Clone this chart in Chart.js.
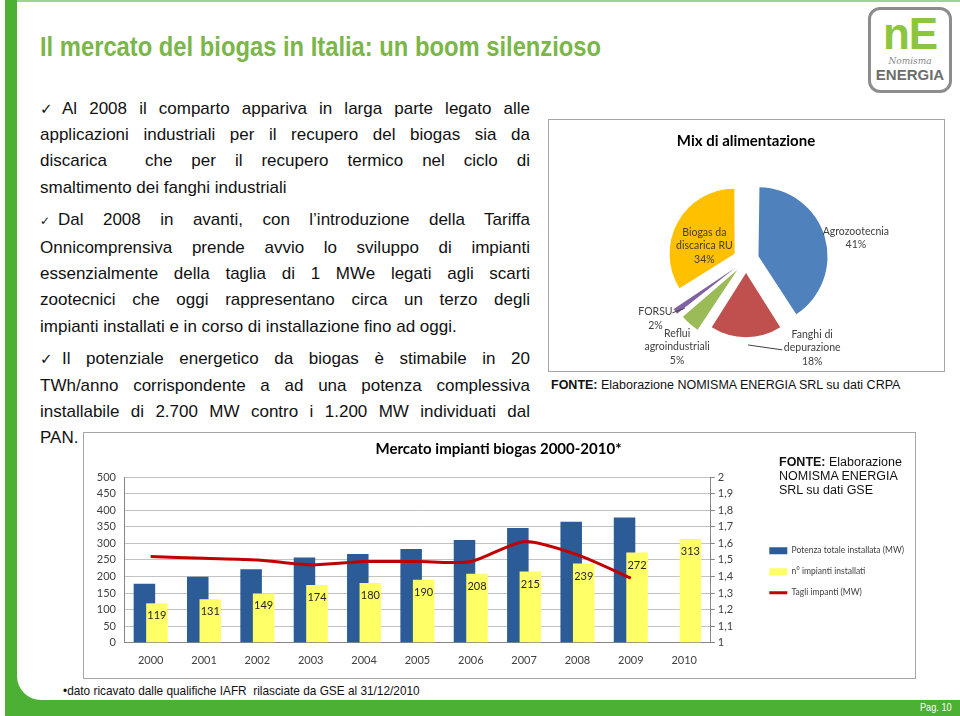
<!DOCTYPE html>
<html>
<head>
<meta charset="utf-8">
<script src="https://cdn.jsdelivr.net/npm/chart.js@4.4.1/dist/chart.umd.min.js"></script>
<style>
    html, body { margin: 0; padding: 0; }
    body { width: 960px; height: 716px; position: relative; overflow: hidden; background: #fff;
           font-family: "Liberation Sans", Arial, sans-serif; color: #111; }
    #frame { position: absolute; left: 5px; top: 0; width: 955px; height: 716px; background: #4cb035; }
    #page { position: absolute; left: 17px; top: 2px; right: 0; bottom: 16px; background: #fff; border-bottom-left-radius: 24px; }
    #topline { position: absolute; left: 17px; top: 0; right: 0; height: 2px; background: #9fd48a; }
    #title { position: absolute; left: 40px; top: 32px; font-weight: bold; font-size: 27px; color: #7ab648;
             white-space: nowrap; transform: scaleX(0.88); transform-origin: left center; }
    #text { position: absolute; left: 40px; top: 95.5px; width: 490px; font-size: 17px; line-height: 26.4px; }
    #text .p { margin-top: 6px; }
    #text .p:first-child { margin-top: 0; }
    #text .l { text-align: justify; text-align-last: justify; white-space: nowrap; }
    #text .l.last { text-align-last: left; }
    .chk { display: inline-block; width: 22px; font-family: "DejaVu Sans", sans-serif; font-size: 15px; }
    .chk.s { width: 18px; font-size: 12px; }
    .box { position: absolute; border: 1px solid #a6a6a6; background: #fff; }
    canvas { position: absolute; }
    .fonte { position: absolute; font-size: 12.5px; line-height: 14px; color: #111; }
    #foot { position: absolute; left: 63px; top: 683px; font-size: 13px; white-space: nowrap;
            transform: scaleX(0.91); transform-origin: left center; }
    #pag { position: absolute; right: 8px; top: 701px; color: #fff; font-size: 11.5px; white-space: nowrap;
           transform: scaleX(0.8); transform-origin: right center; }
    #logo { position: absolute; left: 868px; top: 7px; width: 78px; height: 80px; border: 3px solid #8d8d8d; border-radius: 12px; text-align: center; }
    #logo .ne { font-weight: bold; font-size: 44px; line-height: 44px; color: #8cc63f; margin-top: 2px; letter-spacing: -1px; }
    #logo .nom { font-family: "DejaVu Serif", serif; font-style: italic; font-size: 9px; color: #888; line-height: 10px; }
    #logo .en { font-weight: bold; font-size: 15px; line-height: 18px; color: #6d6d6d; }
</style>
</head>
<body>
<div id="frame"></div>
<div id="page"></div>
<div id="topline"></div>

<div id="title">Il mercato del biogas in Italia: un boom silenzioso</div>

<div id="logo">
    <div class="ne">nE</div>
    <div class="nom">Nomisma</div>
    <div class="en">ENERGIA</div>
</div>

<div id="text">
    <div class="p">
        <div class="l"><span class="chk">✓</span>Al 2008 il comparto appariva in larga parte legato alle</div>
        <div class="l">applicazioni industriali per il recupero del biogas sia da</div>
        <div class="l">discarica &nbsp;che per il recupero termico nel ciclo di</div>
        <div class="l last">smaltimento dei fanghi industriali</div>
    </div>
    <div class="p">
        <div class="l"><span class="chk s">✓</span>Dal 2008 in avanti, con l’introduzione della Tariffa</div>
        <div class="l">Onnicomprensiva prende avvio lo sviluppo di impianti</div>
        <div class="l">essenzialmente della taglia di 1 MWe legati agli scarti</div>
        <div class="l">zootecnici che oggi rappresentano circa un terzo degli</div>
        <div class="l last">impianti installati e in corso di installazione fino ad oggi.</div>
    </div>
    <div class="p">
        <div class="l"><span class="chk">✓</span>Il potenziale energetico da biogas è stimabile in 20</div>
        <div class="l">TWh/anno corrispondente a ad una potenza complessiva</div>
        <div class="l">installabile di 2.700 MW contro i 1.200 MW individuati dal</div>
        <div class="l last">PAN.</div>
    </div>
</div>

<div class="box" style="left:548px; top:119px; width:395px; height:251px;"></div>
<canvas id="mix" width="396" height="252" style="left:548px; top:119px;"></canvas>
<div class="fonte" style="left:551px; top:378px;"><b>FONTE:</b> Elaborazione NOMISMA ENERGIA SRL su dati CRPA</div>

<div class="box" style="left:83px; top:432px; width:831px; height:245px;"></div>
<canvas id="market" width="832" height="246" style="left:83px; top:432px;"></canvas>
<div class="fonte" style="left:779px; top:455px;"><b>FONTE:</b> Elaborazione<br>NOMISMA ENERGIA<br>SRL su dati GSE</div>

<div id="foot">•dato ricavato dalle qualifiche IAFR &nbsp;rilasciate da GSE al 31/12/2010</div>
<div id="pag">Pag. 10</div>

<script>
// --- pie: mix di alimentazione ---
const mixNames = [['Agrozootecnia'], ['Fanghi di', 'depurazione'], ['Reflui', 'agroindustriali'], ['FORSU'], ['Biogas da', 'discarica RU']];
const mixShares = [41, 18, 5, 2, 34];
const mixColors = ['#4f81bd', '#c0504d', '#9bbb59', '#8064a2', '#ffc000'];

// --- bars + line: mercato impianti ---
const years = ['2000', '2001', '2002', '2003', '2004', '2005', '2006', '2007', '2008', '2009', '2010'];
const potenzaMW = [178, 199, 222, 257, 268, 283, 310, 346, 365, 378, null];
const nImpianti = [119, 131, 149, 174, 180, 190, 208, 215, 239, 272, 313];
const tagliMW = [1.52, 1.51, 1.50, 1.47, 1.49, 1.49, 1.49, 1.61, 1.53, 1.39, null];
const rightTickLabels = ['1', '1,1', '1,2', '1,3', '1,4', '1,5', '1,6', '1,7', '1,8', '1,9', '2'];

Chart.defaults.font.family = 'Lato, "Liberation Sans", sans-serif';
Chart.defaults.color = '#404040';

// label placement around the pie (shift from slice bisector in degrees, distance from centre)
const pieLabelPlace = [
    {shift: 5, dist: 112},
    {shift: -37, dist: 110, leader: {a: -1.4, r: 85, tx: -30, ty: 2}},
    {shift: -3, dist: 111},
    {shift: 3, dist: 108, leader: {a: -2.2, r: 78, tx: 17, ty: -6}},
    {shift: -10, dist: 44}
];

const pieLabels = {
    id: 'pieLabels',
    afterDatasetsDraw(chart) {
        const ctx = chart.ctx;
        const arcs = chart.getDatasetMeta(0).data;
        ctx.save();
        ctx.font = '10.5px Lato, "Liberation Sans", sans-serif';
        ctx.fillStyle = '#404040';
        ctx.strokeStyle = '#404040';
        ctx.lineWidth = 1;
        ctx.textAlign = 'center';
        ctx.textBaseline = 'middle';
        arcs.forEach((arc, i) => {
            const p = pieLabelPlace[i];
            const mid = (arc.startAngle + arc.endAngle) / 2;
            const a = mid + p.shift * Math.PI / 180;
            const x = arc.x + Math.cos(a) * p.dist;
            const y = arc.y + Math.sin(a) * p.dist;
            const lines = mixNames[i].concat(mixShares[i] + '%');
            lines.forEach((t, k) => {
                ctx.fillText(t, x, y + (k - (lines.length - 1) / 2) * 13.5);
            });
            if (p.leader) {
                const la = mid + p.leader.a * Math.PI / 180;
                ctx.beginPath();
                ctx.moveTo(arc.x + Math.cos(la) * p.leader.r, arc.y + Math.sin(la) * p.leader.r);
                ctx.lineTo(x + p.leader.tx, y + p.leader.ty);
                ctx.stroke();
            }
        });
        ctx.restore();
    }
};

new Chart(document.getElementById('mix'), {
    type: 'pie',
    data: {
        labels: mixNames.map(n => n.join(' ')),
        datasets: [{
            data: mixShares,
            backgroundColor: mixColors,
            borderWidth: 0,
            offset: 52
        }]
    },
    options: {
        responsive: false,
        animation: false,
        radius: 63,
        layout: {padding: {bottom: 11}},
        plugins: {
            legend: {display: false},
            tooltip: {enabled: false},
            title: {
                display: true,
                text: 'Mix di alimentazione',
                color: '#000',
                font: {size: 15, weight: 'bold'},
                padding: {top: 13, bottom: 10}
            }
        }
    },
    plugins: [pieLabels]
});

// yellow bars sit on top of the blue ones, the line on top of both
const drawOrder = {
    id: 'drawOrder',
    beforeDatasetDraw(chart, args) {
        if (args.index === 1) return false;
    },
    afterDatasetDraw(chart, args) {
        if (args.index === 0) chart.getDatasetMeta(1).controller.draw();
    }
};

const barValues = {
    id: 'barValues',
    afterDatasetsDraw(chart) {
        const ctx = chart.ctx;
        ctx.save();
        ctx.font = '11px Lato, "Liberation Sans", sans-serif';
        ctx.fillStyle = '#262626';
        ctx.textAlign = 'center';
        ctx.textBaseline = 'middle';
        chart.getDatasetMeta(1).data.forEach((bar, i) => {
            ctx.fillText(String(nImpianti[i]), bar.x, bar.y + 12.5);
        });
        ctx.restore();
    }
};

new Chart(document.getElementById('market'), {
    type: 'bar',
    data: {
        labels: years,
        datasets: [
            {
                label: 'Potenza totale installata (MW)',
                data: potenzaMW,
                backgroundColor: '#2b5c97',
                yAxisID: 'y',
                order: 1,
                categoryPercentage: 0.469,
                barPercentage: 1.72,
                pointStyle: 'rect'
            },
            {
                label: 'n° impianti installati',
                data: nImpianti,
                backgroundColor: '#ffff66',
                yAxisID: 'y',
                order: 2,
                categoryPercentage: 0.469,
                barPercentage: 1.72,
                pointStyle: 'rect'
            },
            {
                type: 'line',
                label: 'Tagli impanti (MW)',
                data: tagliMW,
                borderColor: '#c00000',
                backgroundColor: '#c00000',
                borderWidth: 3,
                pointRadius: 0,
                tension: 0.25,
                fill: false,
                yAxisID: 'y2',
                order: 0,
                pointStyle: 'line'
            }
        ]
    },
    options: {
        responsive: false,
        animation: false,
        layout: {padding: {bottom: 0, right: 1}},
        scales: {
            x: {
                grid: {display: false, drawTicks: false},
                border: {color: '#868686'},
                ticks: {font: {size: 11}, padding: 11}
            },
            y: {
                min: 0,
                max: 500,
                ticks: {stepSize: 50, autoSkip: false, font: {size: 11}, padding: 8},
                grid: {color: '#c3c3c3', drawTicks: false},
                border: {color: '#868686'},
                afterFit: (scale) => { scale.width = 41; }
            },
            y2: {
                position: 'right',
                min: 1,
                max: 2,
                ticks: {stepSize: 0.1, autoSkip: false, font: {size: 11}, padding: 3, callback: (v, i) => rightTickLabels[i]},
                grid: {drawOnChartArea: false, tickLength: 4, color: '#868686'},
                border: {color: '#868686'},
                afterFit: (scale) => { scale.width = 46; }
            }
        },
        plugins: {
            tooltip: {enabled: false},
            title: {
                display: true,
                text: 'Mercato impianti biogas 2000-2010*',
                color: '#000',
                font: {size: 15, weight: 'bold'},
                padding: {top: 8, bottom: 19}
            },
            legend: {
                position: 'right',
                fullSize: false,
                align: 'start',
                maxWidth: 240,
                title: {display: true, text: ' ', font: {size: 10}, padding: {top: 45, bottom: 0}},
                labels: {
                    usePointStyle: true,
                    pointStyleWidth: 18,
                    boxHeight: 7,
                    padding: 12.5,
                    font: {size: 8.5},
                    color: '#404040',
                    sort: (a, b) => a.datasetIndex - b.datasetIndex
                }
            }
        }
    },
    plugins: [drawOrder, barValues]
});
</script>
</body>
</html>
